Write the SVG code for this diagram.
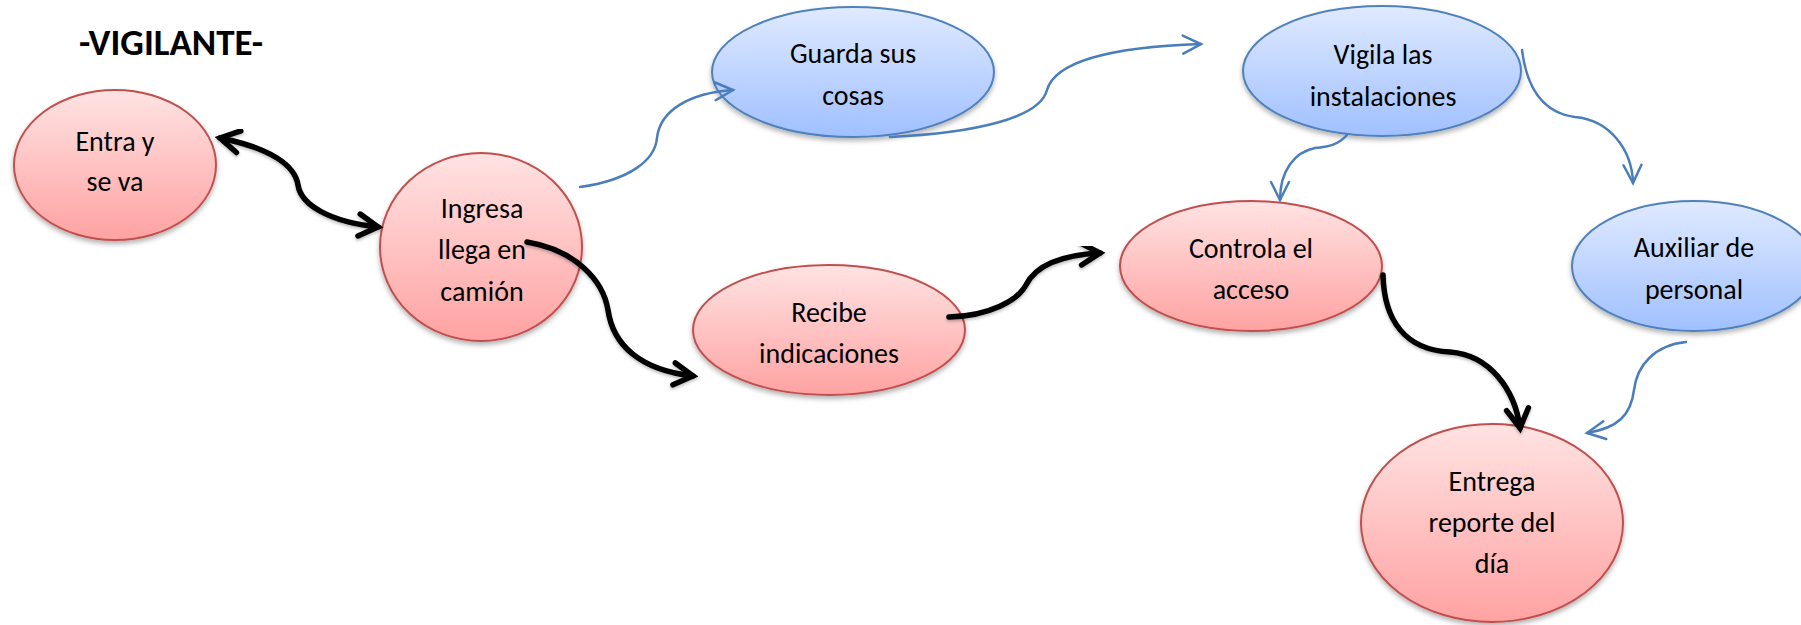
<svg xmlns="http://www.w3.org/2000/svg" width="1801" height="625" viewBox="0 0 1801 625">
  <style>
    .lbl { font-family: Carlito, Lato, "Liberation Sans", sans-serif; font-size: 28px; fill: #000; text-anchor: middle; }
    .title { font-family: Carlito, Lato, "Liberation Sans", sans-serif; font-size: 37px; font-weight: bold; fill: #000; }
    .red { fill: url(#gRed); stroke: #C0504D; stroke-width: 2; filter: url(#sh); }
    .blue { fill: url(#gBlue); stroke: #4F81BD; stroke-width: 2; filter: url(#sh); }
    .cb { fill: none; stroke: #000; stroke-width: 5.5; stroke-linecap: round; filter: url(#sh2); }
    .cu { fill: none; stroke: #4A7EBB; stroke-width: 2.5; stroke-linecap: round; }
  </style>
  <defs>
    <linearGradient id="gRed" x1="0" y1="0" x2="0" y2="1">
      <stop offset="0" stop-color="#FFE3E3"/>
      <stop offset="1" stop-color="#FFA2A2"/>
    </linearGradient>
    <linearGradient id="gBlue" x1="0" y1="0" x2="0" y2="1">
      <stop offset="0" stop-color="#E0EAFF"/>
      <stop offset="1" stop-color="#A0C0FF"/>
    </linearGradient>
    <filter id="sh" x="-10%" y="-10%" width="120%" height="130%">
      <feDropShadow dx="0" dy="3" stdDeviation="2.5" flood-color="#000" flood-opacity="0.3"/>
    </filter>
    <filter id="sh2" x="-10%" y="-10%" width="120%" height="130%">
      <feDropShadow dx="0" dy="2" stdDeviation="1.5" flood-color="#000" flood-opacity="0.25"/>
    </filter>
    <marker id="ab" markerUnits="userSpaceOnUse" viewBox="-26 -16 32 32" refX="0" refY="0" markerWidth="32" markerHeight="32" orient="auto-start-reverse" overflow="visible">
      <path d="M-19,-11 L0,0 L-19,11" fill="none" stroke="#000" stroke-width="5.5" stroke-linecap="round" stroke-linejoin="miter"/>
    </marker>
    <marker id="au" markerUnits="userSpaceOnUse" viewBox="-22 -14 26 28" refX="0" refY="0" markerWidth="26" markerHeight="28" orient="auto" overflow="visible">
      <path d="M-18,-9 L0,0 L-18,9" fill="none" stroke="#4A7EBB" stroke-width="2.5" stroke-linecap="round"/>
    </marker>
  </defs>

  <text class="title" x="79" y="55">-VIGILANTE-</text>

  <g id="n-entra">
    <ellipse class="red" cx="115" cy="165" rx="101" ry="75"/>
    <text class="lbl" x="115" y="151">Entra y</text>
    <text class="lbl" x="115" y="191">se va</text>
  </g>
  <g id="n-ingresa">
    <ellipse class="red" cx="481" cy="247" rx="101" ry="94"/>
    <text class="lbl" x="482" y="218">Ingresa</text>
    <text class="lbl" x="482" y="259">llega en</text>
    <text class="lbl" x="482" y="301">camión</text>
  </g>
  <g id="n-guarda">
    <ellipse class="blue" cx="853" cy="72" rx="141" ry="65"/>
    <text class="lbl" x="853" y="63">Guarda sus</text>
    <text class="lbl" x="853" y="105">cosas</text>
  </g>
  <g id="n-recibe">
    <ellipse class="red" cx="829" cy="330" rx="136" ry="65"/>
    <text class="lbl" x="829" y="322">Recibe</text>
    <text class="lbl" x="829" y="363">indicaciones</text>
  </g>
  <g id="n-vigila">
    <ellipse class="blue" cx="1382" cy="71" rx="139" ry="65"/>
    <text class="lbl" x="1383" y="64">Vigila las</text>
    <text class="lbl" x="1383" y="106">instalaciones</text>
  </g>
  <g id="n-controla">
    <ellipse class="red" cx="1251" cy="266" rx="131" ry="65"/>
    <text class="lbl" x="1251" y="258">Controla el</text>
    <text class="lbl" x="1251" y="299">acceso</text>
  </g>
  <g id="n-auxiliar">
    <ellipse class="blue" cx="1694" cy="266" rx="122" ry="65"/>
    <text class="lbl" x="1694" y="257">Auxiliar de</text>
    <text class="lbl" x="1694" y="299">personal</text>
  </g>
  <g id="n-entrega">
    <ellipse class="red" cx="1492" cy="523" rx="131" ry="99"/>
    <text class="lbl" x="1492" y="491">Entrega</text>
    <text class="lbl" x="1492" y="532">reporte del</text>
    <text class="lbl" x="1492" y="573">día</text>
  </g>

  <g id="connectors">
    <path class="cb" d="M220,138 C270,148 295,165 298,185 C301,205 330,222 378,227" marker-start="url(#ab)" marker-end="url(#ab)"/>
    <path class="cb" d="M527,242 C575,250 603,280 608,310 C613,345 640,370 693,376" marker-end="url(#ab)"/>
    <path class="cb" d="M949,317 C990,316 1018,300 1026,285 C1036,265 1060,255 1100,253" marker-end="url(#ab)"/>
    <path class="cb" d="M1383,275 C1384,320 1405,350 1450,352 C1490,355 1515,390 1520,428" marker-end="url(#ab)"/>
    <path class="cu" d="M580,187 C630,180 655,160 657,138 C660,110 690,93 733,90" marker-end="url(#au)"/>
    <path class="cu" d="M890,137 C975,133 1040,118 1047,90 C1055,62 1110,47 1201,44" marker-end="url(#au)"/>
    <path class="cu" d="M1347,135 C1338,145 1328,147 1315,148 C1295,152 1280,170 1280,200" marker-end="url(#au)"/>
    <path class="cu" d="M1522,50 C1527,90 1545,113 1575,117 C1610,120 1632,150 1633,183" marker-end="url(#au)"/>
    <path class="cu" d="M1686,342 C1655,345 1637,365 1634,390 C1631,415 1618,428 1587,433" marker-end="url(#au)"/>
  </g>
</svg>
